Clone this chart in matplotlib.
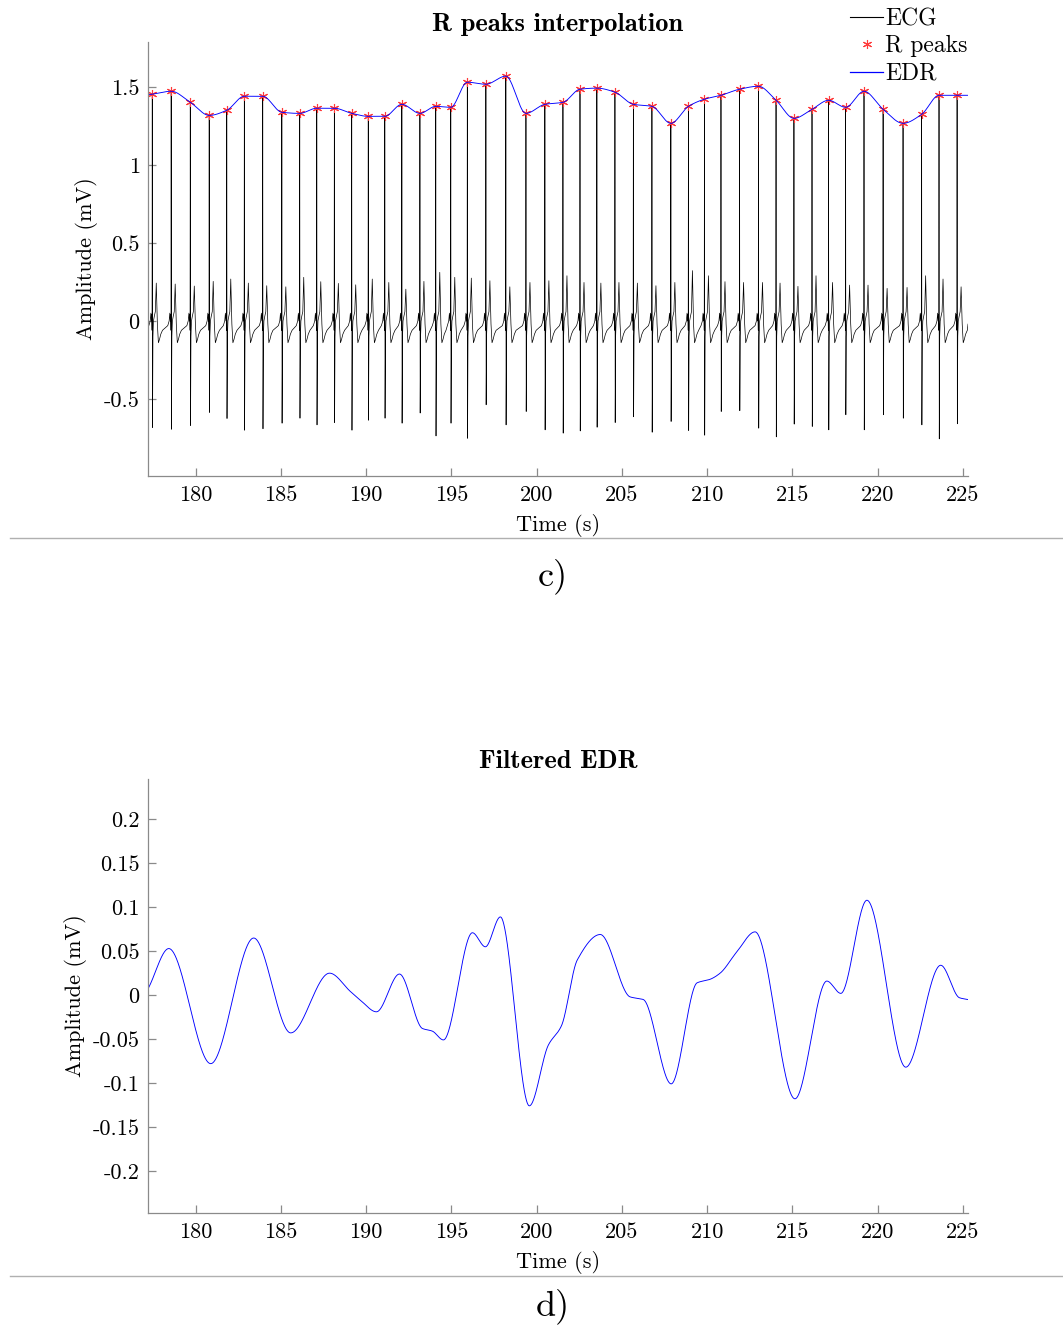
import numpy as np
import matplotlib
matplotlib.use('Agg')
import matplotlib.pyplot as plt
from matplotlib.lines import Line2D

# ---------------- data ----------------
r_times = [177.45, 178.56, 179.68, 180.79, 181.82, 182.85, 183.93, 185.05, 186.10, 187.10,
           188.13, 189.15, 190.12, 191.09, 192.09, 193.15, 194.08, 194.96, 195.93, 197.02,
           198.19, 199.37, 200.48, 201.54, 202.54, 203.53, 204.59, 205.67, 206.76, 207.87,
           208.90, 209.84, 210.81, 211.90, 213.01, 214.04, 215.09, 216.15, 217.12, 218.12,
           219.20, 220.32, 221.49, 222.58, 223.60, 224.66]
r_amps = [1.455, 1.474, 1.403, 1.319, 1.352, 1.442, 1.442, 1.339, 1.332, 1.365,
          1.365, 1.332, 1.313, 1.313, 1.390, 1.332, 1.377, 1.371, 1.532, 1.519,
          1.571, 1.332, 1.390, 1.403, 1.487, 1.494, 1.468, 1.390, 1.377, 1.268,
          1.377, 1.423, 1.448, 1.487, 1.506, 1.416, 1.300, 1.358, 1.416, 1.371,
          1.474, 1.358, 1.268, 1.326, 1.448, 1.448]
s_amps = [-0.684, -0.695, -0.671, -0.587, -0.626, -0.701, -0.692, -0.656, -0.624, -0.667,
          -0.652, -0.701, -0.637, -0.624, -0.656, -0.591, -0.738, -0.656, -0.753, -0.538,
          -0.667, -0.581, -0.699, -0.720, -0.706, -0.682, -0.652, -0.615, -0.714, -0.645,
          -0.703, -0.733, -0.581, -0.576, -0.688, -0.744, -0.662, -0.677, -0.699, -0.602,
          -0.699, -0.602, -0.624, -0.667, -0.757, -0.660]
t_amps = [0.243, 0.237, 0.224, 0.254, 0.269, 0.243, 0.226, 0.219, 0.280, 0.252,
          0.241, 0.232, 0.269, 0.247, 0.204, 0.254, 0.312, 0.280, 0.275, 0.258,
          0.219, 0.247, 0.258, 0.290, 0.247, 0.243, 0.247, 0.243, 0.226, 0.247,
          0.323, 0.290, 0.252, 0.247, 0.247, 0.243, 0.222, 0.290, 0.247, 0.230,
          0.230, 0.209, 0.215, 0.290, 0.269, 0.219]

# one-beat ECG shape (offset from R peak in s, amplitude in mV); R, S, T replaced per beat
beat_offsets = [-0.20, -0.12, -0.08, -0.05, -0.03, -0.012, 0.0, 0.015, 0.04, 0.07,
                0.12, 0.18, 0.235, 0.30, 0.36, 0.42, 0.50, 0.60]
beat_shape = [-0.03, 0.0, 0.05, 0.0, 0.04, -0.06, 0.0, 0.0, -0.10, 0.0,
              0.03, 0.06, 0.0, -0.02, -0.14, -0.12, -0.085, -0.06]
R_IDX, S_IDX, T_IDX = 6, 7, 12

fedr_times = [177.25, 178.42, 180.88, 183.40, 185.57, 187.85, 189.08, 189.67, 190.60, 191.95,
              193.30, 193.88, 194.53, 196.23, 196.99, 197.87, 199.57, 200.68, 201.45, 202.38,
              203.73, 205.48, 206.25, 207.89, 209.41, 210.17, 210.76, 211.73, 212.81, 215.15,
              217.02, 217.84, 219.37, 221.65, 223.70, 224.80, 225.28]
fedr_vals = [0.009, 0.053, -0.078, 0.065, -0.043, 0.025, 0.004, -0.006, -0.019, 0.024,
             -0.038, -0.041, -0.051, 0.071, 0.055, 0.089, -0.126, -0.057, -0.035, 0.040,
             0.069, -0.002, -0.005, -0.101, 0.014, 0.018, 0.025, 0.049, 0.072, -0.118,
             0.016, 0.002, 0.108, -0.082, 0.034, -0.003, -0.005]

x_ticks = [180, 185, 190, 195, 200, 205, 210, 215, 220, 225]
x_tick_labels = ['180', '185', '190', '195', '200', '205', '210', '215', '220', '225']
top_y_ticks = [-0.5, 0, 0.5, 1, 1.5]
top_y_tick_labels = ['-0.5', '0', '0.5', '1', '1.5']
bot_y_ticks = [-0.2, -0.15, -0.1, -0.05, 0, 0.05, 0.1, 0.15, 0.2]
bot_y_tick_labels = ['-0.2', '-0.15', '-0.1', '-0.05', '0', '0.05', '0.1', '0.15', '0.2']

XLIM = (177.2, 225.3)

# ---------------- helpers ----------------
def pchip(x, y, xq):
    x = np.asarray(x, float); y = np.asarray(y, float)
    h = np.diff(x); d = np.diff(y) / h
    n = len(x); m = np.zeros(n)
    for k in range(1, n - 1):
        if d[k - 1] * d[k] > 0:
            w1 = 2 * h[k] + h[k - 1]; w2 = h[k] + 2 * h[k - 1]
            m[k] = (w1 + w2) / (w1 / d[k - 1] + w2 / d[k])
    m[0] = d[0]; m[-1] = d[-1]
    idx = np.clip(np.searchsorted(x, xq) - 1, 0, n - 2)
    hi = h[idx]; s = (xq - x[idx]) / hi
    h00 = 2 * s ** 3 - 3 * s ** 2 + 1; h10 = s ** 3 - 2 * s ** 2 + s
    h01 = -2 * s ** 3 + 3 * s ** 2; h11 = s ** 3 - s ** 2
    return h00 * y[idx] + h10 * hi * m[idx] + h01 * y[idx + 1] + h11 * hi * m[idx + 1]


# build ECG polyline from beat shape
ecg_t = [XLIM[0]]
ecg_v = [-0.03]
for rt, ra, sa, ta in zip(r_times, r_amps, s_amps, t_amps):
    shape = list(beat_shape)
    shape[R_IDX] = ra; shape[S_IDX] = sa; shape[T_IDX] = ta
    for off, val in zip(beat_offsets, shape):
        tt = rt + off
        if XLIM[0] <= tt <= XLIM[1]:
            ecg_t.append(tt); ecg_v.append(val)
ecg_t.append(XLIM[1]); ecg_v.append(-0.02)

tq = np.linspace(XLIM[0], XLIM[1], 3000)
edr_curve = pchip(r_times, r_amps, tq)
tq2 = np.linspace(fedr_times[0], fedr_times[-1], 3000)
fedr_curve = pchip(fedr_times, fedr_vals, tq2)

# ---------------- figure ----------------
plt.rcParams['axes.unicode_minus'] = False
W, H = 1063, 1326
fig = plt.figure(figsize=(W / 100, H / 100), dpi=100)
FS = 16
RM = 'cmr10'
BF = 'cmb10'
AX_COL = '#8a8a8a'
EDR_COL = '#0000ff'
PK_COL = '#ff3b3b'

def style(ax, yt, ytl):
    for sp in ['top', 'right']:
        ax.spines[sp].set_visible(False)
    for sp in ['left', 'bottom']:
        ax.spines[sp].set_color(AX_COL)
        ax.spines[sp].set_linewidth(0.9)
    ax.set_xlim(*XLIM)
    ax.set_xticks(x_ticks)
    ax.set_xticklabels(x_tick_labels, fontfamily=RM, fontsize=FS)
    ax.set_yticks(yt)
    ax.set_yticklabels(ytl, fontfamily=RM, fontsize=FS)
    ax.tick_params(direction='in', length=6, width=0.9, color=AX_COL, labelcolor='black')
    ax.tick_params(axis='x', pad=7)
    ax.tick_params(axis='y', pad=6)
    ax.set_xlabel('Time (s)', fontfamily=RM, fontsize=FS, labelpad=6)
    ax.set_ylabel('Amplitude (mV)', fontfamily=RM, fontsize=FS, labelpad=4)

# top panel
ax1 = fig.add_axes([148 / W, 1 - 476 / H, 820 / W, 434 / H])
ax1.plot(ecg_t, ecg_v, color='black', lw=0.5)
ax1.plot(r_times, r_amps, linestyle='none', marker=(6, 2, 0), ms=6.5, mew=0.8,
         color=PK_COL)
ax1.plot(tq, edr_curve, color=EDR_COL, lw=0.65)
ax1.set_ylim(-0.995, 1.79)
style(ax1, top_y_ticks, top_y_tick_labels)
ax1.set_title('R peaks interpolation', fontfamily=BF, fontsize=19, pad=8)

handles = [Line2D([0, 1], [0, 0], color='black', lw=0.8),
           Line2D([0], [0], linestyle='none', marker=(6, 2, 0), ms=6.5, mew=0.8, color=PK_COL),
           Line2D([0, 1], [0, 0], color=EDR_COL, lw=0.9)]
leg = fig.legend(handles, ['ECG', 'R peaks', 'EDR'], loc='upper left',
                 bbox_to_anchor=(850 / W, 1 - 8 / H), frameon=False,
                 prop={'family': RM, 'size': 17}, handlelength=1.4, numpoints=1,
                 handletextpad=0.1, labelspacing=0.22, borderpad=0, borderaxespad=0)

# bottom panel
ax2 = fig.add_axes([148 / W, 1 - 1213 / H, 820 / W, 434 / H])
ax2.plot(tq2, fedr_curve, color=EDR_COL, lw=0.65)
ax2.set_ylim(-0.248, 0.246)
style(ax2, bot_y_ticks, bot_y_tick_labels)
ax2.set_title('Filtered EDR', fontfamily=BF, fontsize=19, pad=8)

# separators and panel letters
fig.add_artist(Line2D([10 / W, 1.0], [1 - 538 / H, 1 - 538 / H], color='#b0b0b0', lw=1))
fig.add_artist(Line2D([10 / W, 1.0], [1 - 1276 / H, 1 - 1276 / H], color='#b0b0b0', lw=1))
fig.text(553 / W, 1 - 576 / H, 'c)', ha='center', va='center', fontfamily=RM, fontsize=26)
fig.text(553 / W, 1 - 1306 / H, 'd)', ha='center', va='center', fontfamily=RM, fontsize=26)

fig.savefig('out.png', dpi=100)
